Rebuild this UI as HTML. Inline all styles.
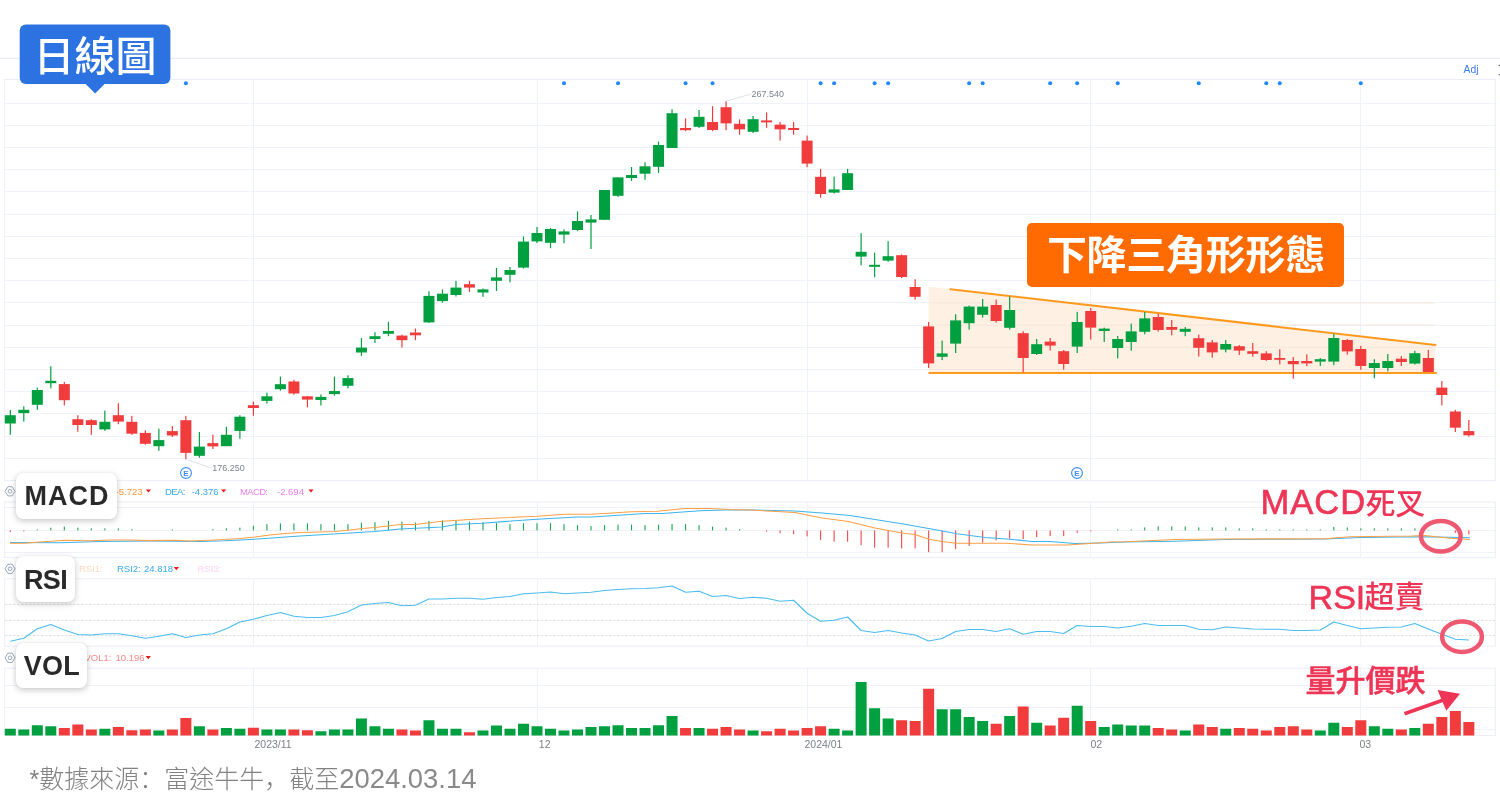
<!DOCTYPE html>
<html lang="zh-Hant"><head><meta charset="utf-8"><title>日線圖</title>
<style>
html,body{margin:0;padding:0;background:#fff}
body{width:1500px;height:812px;position:relative;overflow:hidden;font-family:"Liberation Sans","Noto Sans CJK TC",sans-serif}
.abs{position:absolute;white-space:nowrap}
.sc{font-family:"Noto Sans CJK SC",sans-serif}
.tag{box-sizing:border-box;padding-top:2px;background:#fff;border-radius:7px;box-shadow:0 2px 6px rgba(0,0,0,.22),0 0 1px rgba(0,0,0,.1);color:#2a2a2a;font-weight:bold;font-size:27px;letter-spacing:1px;text-indent:1px;display:flex;align-items:center;justify-content:center}
.note{color:#ee3556;font-size:30px;line-height:30px;font-weight:500;-webkit-text-stroke:0.3px #ee3556}
</style></head><body>
<svg width="1500" height="812" viewBox="0 0 1500 812" style="position:absolute;left:0;top:0">
<rect width="1500" height="812" fill="#fff"/>
<rect x="0" y="57.8" width="1500" height="1.2" fill="#e9ecf2"/>
<g shape-rendering="crispEdges">
<rect x="4.5" y="457.8" width="1491" height="1" fill="#eff2f8"/>
<rect x="4.5" y="435.6" width="1491" height="1" fill="#eff2f8"/>
<rect x="4.5" y="413.4" width="1491" height="1" fill="#eff2f8"/>
<rect x="4.5" y="391.2" width="1491" height="1" fill="#eff2f8"/>
<rect x="4.5" y="369" width="1491" height="1" fill="#eff2f8"/>
<rect x="4.5" y="346.8" width="1491" height="1" fill="#eff2f8"/>
<rect x="4.5" y="324.6" width="1491" height="1" fill="#eff2f8"/>
<rect x="4.5" y="302.4" width="1491" height="1" fill="#eff2f8"/>
<rect x="4.5" y="280.2" width="1491" height="1" fill="#eff2f8"/>
<rect x="4.5" y="258" width="1491" height="1" fill="#eff2f8"/>
<rect x="4.5" y="235.8" width="1491" height="1" fill="#eff2f8"/>
<rect x="4.5" y="213.6" width="1491" height="1" fill="#eff2f8"/>
<rect x="4.5" y="191.4" width="1491" height="1" fill="#eff2f8"/>
<rect x="4.5" y="169.2" width="1491" height="1" fill="#eff2f8"/>
<rect x="4.5" y="147" width="1491" height="1" fill="#eff2f8"/>
<rect x="4.5" y="124.8" width="1491" height="1" fill="#eff2f8"/>
<rect x="4.5" y="102.6" width="1491" height="1" fill="#eff2f8"/>
<rect x="252.89" y="79.5" width="1" height="401" fill="#eff2f8"/>
<rect x="536.5" y="79.5" width="1" height="401" fill="#eff2f8"/>
<rect x="806.6" y="79.5" width="1" height="401" fill="#eff2f8"/>
<rect x="1090.2" y="79.5" width="1" height="401" fill="#eff2f8"/>
<rect x="1360.3" y="79.5" width="1" height="401" fill="#eff2f8"/>
</g>
<rect x="4.7" y="79.5" width="1490.6" height="401" fill="none" stroke="#ebeef5" stroke-width="1"/>
<g shape-rendering="crispEdges">
<rect x="4.5" y="506.5" width="1491" height="1" fill="#eff2f8"/>
<rect x="4.5" y="529.5" width="1491" height="1" fill="#eff2f8"/>
<rect x="4.5" y="551.9" width="1491" height="1" fill="#eff2f8"/>
<rect x="252.89" y="502" width="1" height="55.6" fill="#eff2f8"/>
<rect x="536.5" y="502" width="1" height="55.6" fill="#eff2f8"/>
<rect x="806.6" y="502" width="1" height="55.6" fill="#eff2f8"/>
<rect x="1090.2" y="502" width="1" height="55.6" fill="#eff2f8"/>
<rect x="1360.3" y="502" width="1" height="55.6" fill="#eff2f8"/>
</g>
<rect x="4.7" y="502" width="1490.6" height="55.6" fill="none" stroke="#ebeef5" stroke-width="1"/>
<g shape-rendering="crispEdges">
<rect x="252.89" y="578.8" width="1" height="67.4" fill="#eff2f8"/>
<rect x="536.5" y="578.8" width="1" height="67.4" fill="#eff2f8"/>
<rect x="806.6" y="578.8" width="1" height="67.4" fill="#eff2f8"/>
<rect x="1090.2" y="578.8" width="1" height="67.4" fill="#eff2f8"/>
<rect x="1360.3" y="578.8" width="1" height="67.4" fill="#eff2f8"/>
</g>
<rect x="4.7" y="578.8" width="1490.6" height="67.4" fill="none" stroke="#ebeef5" stroke-width="1"/>
<line x1="5" x2="1495" y1="604.5" y2="604.5" stroke="#dcdfe5" stroke-width="1" stroke-dasharray="2.5 1.5"/>
<line x1="5" x2="1495" y1="620.5" y2="620.5" stroke="#dcdfe5" stroke-width="1" stroke-dasharray="2.5 1.5"/>
<line x1="5" x2="1495" y1="635.5" y2="635.5" stroke="#dcdfe5" stroke-width="1" stroke-dasharray="2.5 1.5"/>
<g shape-rendering="crispEdges">
<rect x="4.5" y="684.7" width="1491" height="1" fill="#eff2f8"/>
<rect x="4.5" y="706.7" width="1491" height="1" fill="#eff2f8"/>
<rect x="4.5" y="728.8" width="1491" height="1" fill="#eff2f8"/>
<rect x="252.89" y="668.2" width="1" height="67.3" fill="#eff2f8"/>
<rect x="536.5" y="668.2" width="1" height="67.3" fill="#eff2f8"/>
<rect x="806.6" y="668.2" width="1" height="67.3" fill="#eff2f8"/>
<rect x="1090.2" y="668.2" width="1" height="67.3" fill="#eff2f8"/>
<rect x="1360.3" y="668.2" width="1" height="67.3" fill="#eff2f8"/>
</g>
<rect x="4.7" y="668.2" width="1490.6" height="67.3" fill="none" stroke="#ebeef5" stroke-width="1"/>
<polygon points="928.6,286.7 1435.5,345 1435.5,373 928.6,373" fill="#fff0e4"/>
<rect x="929" y="369" width="506" height="1" fill="#f3e6dc"/>
<rect x="929" y="346.8" width="506" height="1" fill="#f3e6dc"/>
<rect x="929" y="324.6" width="506" height="1" fill="#f3e6dc"/>
<rect x="929" y="302.4" width="506" height="1" fill="#f3e6dc"/>
<line x1="950.4" y1="289.2" x2="1435.5" y2="344.9" stroke="#ff9a1f" stroke-width="2" stroke-linecap="round"/>
<line x1="929.4" y1="373" x2="1436" y2="373" stroke="#ff9a1f" stroke-width="2" stroke-linecap="round"/>
<circle cx="185.87" cy="83.2" r="2" fill="#1e88ff"/>
<circle cx="564" cy="83.2" r="2" fill="#1e88ff"/>
<circle cx="618.02" cy="83.2" r="2" fill="#1e88ff"/>
<circle cx="685.55" cy="83.2" r="2" fill="#1e88ff"/>
<circle cx="712.56" cy="83.2" r="2" fill="#1e88ff"/>
<circle cx="820.6" cy="83.2" r="2" fill="#1e88ff"/>
<circle cx="834.11" cy="83.2" r="2" fill="#1e88ff"/>
<circle cx="874.62" cy="83.2" r="2" fill="#1e88ff"/>
<circle cx="888.12" cy="83.2" r="2" fill="#1e88ff"/>
<circle cx="969.15" cy="83.2" r="2" fill="#1e88ff"/>
<circle cx="982.66" cy="83.2" r="2" fill="#1e88ff"/>
<circle cx="1050.18" cy="83.2" r="2" fill="#1e88ff"/>
<circle cx="1077.19" cy="83.2" r="2" fill="#1e88ff"/>
<circle cx="1117.71" cy="83.2" r="2" fill="#1e88ff"/>
<circle cx="1198.74" cy="83.2" r="2" fill="#1e88ff"/>
<circle cx="1266.27" cy="83.2" r="2" fill="#1e88ff"/>
<circle cx="1279.77" cy="83.2" r="2" fill="#1e88ff"/>
<circle cx="1360.8" cy="83.2" r="2" fill="#1e88ff"/>
<rect x="9.7" y="410" width="1.2" height="24.8" fill="#00a040"/>
<rect x="4.8" y="415.2" width="11" height="8.3" fill="#00a040"/>
<rect x="23.2" y="406.3" width="1.2" height="15.3" fill="#00a040"/>
<rect x="18.3" y="409.8" width="11" height="3.3" fill="#00a040"/>
<rect x="36.71" y="387.6" width="1.2" height="22.2" fill="#00a040"/>
<rect x="31.81" y="390" width="11" height="14.8" fill="#00a040"/>
<rect x="50.21" y="366.2" width="1.2" height="22.2" fill="#00a040"/>
<rect x="45.31" y="380.8" width="11" height="2.4" fill="#00a040"/>
<rect x="63.72" y="381.9" width="1.2" height="23.5" fill="#f03c3c"/>
<rect x="58.82" y="384.1" width="11" height="16.1" fill="#f03c3c"/>
<rect x="77.23" y="415.2" width="1.2" height="16.6" fill="#f03c3c"/>
<rect x="72.33" y="419.2" width="11" height="5.8" fill="#f03c3c"/>
<rect x="90.73" y="419.2" width="1.2" height="15.6" fill="#f03c3c"/>
<rect x="85.83" y="420.2" width="11" height="4.8" fill="#f03c3c"/>
<rect x="104.24" y="410.6" width="1.2" height="20.3" fill="#00a040"/>
<rect x="99.34" y="421.8" width="11" height="7.6" fill="#00a040"/>
<rect x="117.74" y="403.2" width="1.2" height="21" fill="#f03c3c"/>
<rect x="112.84" y="415.2" width="11" height="6.4" fill="#f03c3c"/>
<rect x="131.25" y="415.9" width="1.2" height="18.9" fill="#f03c3c"/>
<rect x="126.34" y="421.8" width="11" height="11.9" fill="#f03c3c"/>
<rect x="144.75" y="430.3" width="1.2" height="14.4" fill="#f03c3c"/>
<rect x="139.85" y="432.9" width="11" height="10.9" fill="#f03c3c"/>
<rect x="158.26" y="428.7" width="1.2" height="22.1" fill="#00a040"/>
<rect x="153.36" y="440.1" width="11" height="6.1" fill="#00a040"/>
<rect x="171.76" y="426.1" width="1.2" height="10.9" fill="#f03c3c"/>
<rect x="166.86" y="431.1" width="11" height="4.4" fill="#f03c3c"/>
<rect x="185.27" y="415.9" width="1.2" height="43.4" fill="#f03c3c"/>
<rect x="180.37" y="420.2" width="11" height="32.7" fill="#f03c3c"/>
<rect x="198.77" y="432" width="1.2" height="25.7" fill="#00a040"/>
<rect x="193.87" y="446.6" width="11" height="9.2" fill="#00a040"/>
<rect x="212.28" y="434.6" width="1.2" height="14.4" fill="#f03c3c"/>
<rect x="207.38" y="443.1" width="11" height="3.3" fill="#f03c3c"/>
<rect x="225.78" y="426.8" width="1.2" height="19.4" fill="#00a040"/>
<rect x="220.88" y="434.8" width="11" height="11.4" fill="#00a040"/>
<rect x="239.29" y="415.2" width="1.2" height="23.6" fill="#00a040"/>
<rect x="234.39" y="416.7" width="11" height="14.2" fill="#00a040"/>
<rect x="252.79" y="401.5" width="1.2" height="14.2" fill="#f03c3c"/>
<rect x="247.89" y="405.2" width="11" height="2.8" fill="#f03c3c"/>
<rect x="266.3" y="392.6" width="1.2" height="11" fill="#00a040"/>
<rect x="261.4" y="396.3" width="11" height="4.6" fill="#00a040"/>
<rect x="279.8" y="376.6" width="1.2" height="14.1" fill="#00a040"/>
<rect x="274.9" y="384.2" width="11" height="5" fill="#00a040"/>
<rect x="293.31" y="379.9" width="1.2" height="14.8" fill="#f03c3c"/>
<rect x="288.41" y="381.5" width="11" height="12" fill="#f03c3c"/>
<rect x="306.81" y="396.3" width="1.2" height="11" fill="#f03c3c"/>
<rect x="301.91" y="396.3" width="11" height="3.3" fill="#f03c3c"/>
<rect x="320.31" y="394.4" width="1.2" height="11.1" fill="#00a040"/>
<rect x="315.42" y="396.9" width="11" height="3.1" fill="#00a040"/>
<rect x="333.82" y="376.6" width="1.2" height="19" fill="#00a040"/>
<rect x="328.92" y="391" width="11" height="3.1" fill="#00a040"/>
<rect x="347.32" y="375.3" width="1.2" height="13" fill="#00a040"/>
<rect x="342.43" y="378.1" width="11" height="7.7" fill="#00a040"/>
<rect x="360.83" y="338.1" width="1.2" height="17.8" fill="#00a040"/>
<rect x="355.93" y="347.6" width="11" height="4.9" fill="#00a040"/>
<rect x="374.34" y="332.2" width="1.2" height="10.8" fill="#00a040"/>
<rect x="369.44" y="336.2" width="11" height="2.8" fill="#00a040"/>
<rect x="387.84" y="321.7" width="1.2" height="14.5" fill="#00a040"/>
<rect x="382.94" y="331" width="11" height="2.8" fill="#00a040"/>
<rect x="401.35" y="334.7" width="1.2" height="12.9" fill="#f03c3c"/>
<rect x="396.45" y="335.6" width="11" height="4.6" fill="#f03c3c"/>
<rect x="414.85" y="328.5" width="1.2" height="11.7" fill="#f03c3c"/>
<rect x="409.95" y="332.5" width="11" height="2.8" fill="#f03c3c"/>
<rect x="428.36" y="291.3" width="1.2" height="31.6" fill="#00a040"/>
<rect x="423.46" y="295.9" width="11" height="26.5" fill="#00a040"/>
<rect x="441.86" y="289.4" width="1.2" height="13.3" fill="#00a040"/>
<rect x="436.96" y="293.7" width="11" height="7.4" fill="#00a040"/>
<rect x="455.37" y="280.8" width="1.2" height="15.7" fill="#00a040"/>
<rect x="450.47" y="287.6" width="11" height="7.4" fill="#00a040"/>
<rect x="468.87" y="280.8" width="1.2" height="11.1" fill="#f03c3c"/>
<rect x="463.97" y="284.2" width="11" height="3.4" fill="#f03c3c"/>
<rect x="482.38" y="288.5" width="1.2" height="8.3" fill="#00a040"/>
<rect x="477.48" y="289.4" width="11" height="3.1" fill="#00a040"/>
<rect x="495.88" y="268" width="1.2" height="23" fill="#00a040"/>
<rect x="490.98" y="277.4" width="11" height="3.4" fill="#00a040"/>
<rect x="509.38" y="267" width="1.2" height="15.4" fill="#00a040"/>
<rect x="504.49" y="270" width="11" height="4.8" fill="#00a040"/>
<rect x="522.89" y="236.4" width="1.2" height="32.2" fill="#00a040"/>
<rect x="517.99" y="241.6" width="11" height="26" fill="#00a040"/>
<rect x="536.39" y="227" width="1.2" height="16" fill="#00a040"/>
<rect x="531.5" y="233" width="11" height="8.4" fill="#00a040"/>
<rect x="549.9" y="228" width="1.2" height="20.2" fill="#00a040"/>
<rect x="545" y="229" width="11" height="13.8" fill="#00a040"/>
<rect x="563.4" y="229.4" width="1.2" height="13.8" fill="#00a040"/>
<rect x="558.5" y="231.4" width="11" height="3.2" fill="#00a040"/>
<rect x="576.91" y="211.4" width="1.2" height="19.8" fill="#00a040"/>
<rect x="572.01" y="221" width="11" height="9" fill="#00a040"/>
<rect x="590.41" y="215" width="1.2" height="34" fill="#00a040"/>
<rect x="585.51" y="219.4" width="11" height="3.2" fill="#00a040"/>
<rect x="603.92" y="190" width="1.2" height="29.8" fill="#00a040"/>
<rect x="599.02" y="190" width="11" height="29.8" fill="#00a040"/>
<rect x="617.42" y="177.2" width="1.2" height="19.8" fill="#00a040"/>
<rect x="612.52" y="177.4" width="11" height="18.4" fill="#00a040"/>
<rect x="630.93" y="167" width="1.2" height="13.8" fill="#00a040"/>
<rect x="626.03" y="175" width="11" height="3" fill="#00a040"/>
<rect x="644.43" y="162.3" width="1.2" height="17.5" fill="#00a040"/>
<rect x="639.53" y="166.3" width="11" height="7.4" fill="#00a040"/>
<rect x="657.94" y="141.6" width="1.2" height="31.3" fill="#00a040"/>
<rect x="653.04" y="145" width="11" height="21.8" fill="#00a040"/>
<rect x="671.44" y="109.2" width="1.2" height="38.8" fill="#00a040"/>
<rect x="666.54" y="113.2" width="11" height="34.8" fill="#00a040"/>
<rect x="684.95" y="118.4" width="1.2" height="12.8" fill="#f03c3c"/>
<rect x="680.05" y="128" width="11" height="2.2" fill="#f03c3c"/>
<rect x="698.45" y="110" width="1.2" height="18" fill="#00a040"/>
<rect x="693.55" y="116.8" width="11" height="10" fill="#00a040"/>
<rect x="711.96" y="106.2" width="1.2" height="25" fill="#f03c3c"/>
<rect x="707.06" y="122" width="11" height="8" fill="#f03c3c"/>
<rect x="725.46" y="101.2" width="1.2" height="29" fill="#f03c3c"/>
<rect x="720.56" y="107.2" width="11" height="16.2" fill="#f03c3c"/>
<rect x="738.97" y="119.4" width="1.2" height="15.4" fill="#f03c3c"/>
<rect x="734.07" y="123.8" width="11" height="5.6" fill="#f03c3c"/>
<rect x="752.48" y="116" width="1.2" height="17" fill="#00a040"/>
<rect x="747.58" y="119.2" width="11" height="12.6" fill="#00a040"/>
<rect x="765.98" y="112.4" width="1.2" height="15.4" fill="#f03c3c"/>
<rect x="761.08" y="120.4" width="11" height="2" fill="#f03c3c"/>
<rect x="779.49" y="122" width="1.2" height="18.6" fill="#f03c3c"/>
<rect x="774.59" y="124.6" width="11" height="4.8" fill="#f03c3c"/>
<rect x="792.99" y="122" width="1.2" height="12.8" fill="#f03c3c"/>
<rect x="788.09" y="128" width="11" height="2" fill="#f03c3c"/>
<rect x="806.5" y="135.6" width="1.2" height="31.6" fill="#f03c3c"/>
<rect x="801.6" y="140.6" width="11" height="23" fill="#f03c3c"/>
<rect x="820" y="169" width="1.2" height="28.6" fill="#f03c3c"/>
<rect x="815.1" y="176.8" width="11" height="17.2" fill="#f03c3c"/>
<rect x="833.5" y="176.6" width="1.2" height="17" fill="#00a040"/>
<rect x="828.61" y="189.4" width="11" height="3.2" fill="#00a040"/>
<rect x="847.01" y="168.8" width="1.2" height="21.2" fill="#00a040"/>
<rect x="842.11" y="173.2" width="11" height="16.8" fill="#00a040"/>
<rect x="860.51" y="233.2" width="1.2" height="32.2" fill="#00a040"/>
<rect x="855.62" y="251.8" width="11" height="4.8" fill="#00a040"/>
<rect x="874.02" y="252.6" width="1.2" height="24.6" fill="#00a040"/>
<rect x="869.12" y="264.8" width="11" height="2" fill="#00a040"/>
<rect x="887.52" y="241.2" width="1.2" height="20.6" fill="#00a040"/>
<rect x="882.62" y="256.2" width="11" height="4.4" fill="#00a040"/>
<rect x="901.03" y="254.4" width="1.2" height="23.6" fill="#f03c3c"/>
<rect x="896.13" y="255.2" width="11" height="21.8" fill="#f03c3c"/>
<rect x="914.53" y="279.2" width="1.2" height="20.4" fill="#f03c3c"/>
<rect x="909.63" y="287" width="11" height="9.8" fill="#f03c3c"/>
<rect x="928.04" y="322" width="1.2" height="46" fill="#f03c3c"/>
<rect x="923.14" y="326.4" width="11" height="37" fill="#f03c3c"/>
<rect x="941.54" y="340.6" width="1.2" height="19.4" fill="#00a040"/>
<rect x="936.64" y="353.4" width="11" height="3.4" fill="#00a040"/>
<rect x="955.05" y="314.2" width="1.2" height="38.8" fill="#00a040"/>
<rect x="950.15" y="320.4" width="11" height="23.2" fill="#00a040"/>
<rect x="968.55" y="305.6" width="1.2" height="24" fill="#00a040"/>
<rect x="963.65" y="306.6" width="11" height="16.6" fill="#00a040"/>
<rect x="982.06" y="299" width="1.2" height="18.6" fill="#00a040"/>
<rect x="977.16" y="306.6" width="11" height="8.2" fill="#00a040"/>
<rect x="995.56" y="299.6" width="1.2" height="23" fill="#f03c3c"/>
<rect x="990.66" y="305" width="11" height="16" fill="#f03c3c"/>
<rect x="1009.07" y="296.6" width="1.2" height="33" fill="#00a040"/>
<rect x="1004.17" y="310" width="11" height="17.8" fill="#00a040"/>
<rect x="1022.58" y="331.2" width="1.2" height="41.2" fill="#f03c3c"/>
<rect x="1017.68" y="333.2" width="11" height="24.8" fill="#f03c3c"/>
<rect x="1036.08" y="339" width="1.2" height="16" fill="#00a040"/>
<rect x="1031.18" y="344.2" width="11" height="9.8" fill="#00a040"/>
<rect x="1049.59" y="338" width="1.2" height="12.6" fill="#f03c3c"/>
<rect x="1044.68" y="341.6" width="11" height="4" fill="#f03c3c"/>
<rect x="1063.09" y="350" width="1.2" height="19.6" fill="#f03c3c"/>
<rect x="1058.19" y="351.2" width="11" height="12.8" fill="#f03c3c"/>
<rect x="1076.6" y="311.8" width="1.2" height="41.2" fill="#00a040"/>
<rect x="1071.69" y="322" width="11" height="24.6" fill="#00a040"/>
<rect x="1090.1" y="308" width="1.2" height="31.6" fill="#f03c3c"/>
<rect x="1085.2" y="311" width="11" height="16.6" fill="#f03c3c"/>
<rect x="1103.61" y="327.6" width="1.2" height="14.4" fill="#00a040"/>
<rect x="1098.7" y="328.6" width="11" height="2.4" fill="#00a040"/>
<rect x="1117.11" y="336" width="1.2" height="22.4" fill="#00a040"/>
<rect x="1112.21" y="339" width="11" height="9" fill="#00a040"/>
<rect x="1130.62" y="323.6" width="1.2" height="27.1" fill="#00a040"/>
<rect x="1125.71" y="331.4" width="11" height="10.6" fill="#00a040"/>
<rect x="1144.12" y="312" width="1.2" height="22.4" fill="#00a040"/>
<rect x="1139.22" y="318.4" width="11" height="13.4" fill="#00a040"/>
<rect x="1157.62" y="314" width="1.2" height="17.6" fill="#f03c3c"/>
<rect x="1152.72" y="317" width="11" height="13" fill="#f03c3c"/>
<rect x="1171.13" y="320" width="1.2" height="15.4" fill="#f03c3c"/>
<rect x="1166.23" y="327" width="11" height="2.8" fill="#f03c3c"/>
<rect x="1184.64" y="327" width="1.2" height="9.2" fill="#00a040"/>
<rect x="1179.74" y="328.8" width="11" height="3" fill="#00a040"/>
<rect x="1198.14" y="334.6" width="1.2" height="22" fill="#f03c3c"/>
<rect x="1193.24" y="338.2" width="11" height="9.6" fill="#f03c3c"/>
<rect x="1211.65" y="340" width="1.2" height="17.6" fill="#f03c3c"/>
<rect x="1206.75" y="342.4" width="11" height="10" fill="#f03c3c"/>
<rect x="1225.15" y="340" width="1.2" height="12.4" fill="#00a040"/>
<rect x="1220.25" y="344" width="11" height="5.6" fill="#00a040"/>
<rect x="1238.66" y="345" width="1.2" height="10" fill="#f03c3c"/>
<rect x="1233.76" y="346.2" width="11" height="4.4" fill="#f03c3c"/>
<rect x="1252.16" y="343" width="1.2" height="13.6" fill="#f03c3c"/>
<rect x="1247.26" y="351.2" width="11" height="2.6" fill="#f03c3c"/>
<rect x="1265.67" y="351.2" width="1.2" height="9.6" fill="#f03c3c"/>
<rect x="1260.77" y="353.4" width="11" height="6.6" fill="#f03c3c"/>
<rect x="1279.17" y="349.2" width="1.2" height="15.2" fill="#f03c3c"/>
<rect x="1274.27" y="358" width="11" height="1.8" fill="#f03c3c"/>
<rect x="1292.68" y="357" width="1.2" height="21.8" fill="#f03c3c"/>
<rect x="1287.78" y="361" width="11" height="3.2" fill="#f03c3c"/>
<rect x="1306.18" y="354.4" width="1.2" height="11.6" fill="#f03c3c"/>
<rect x="1301.28" y="361" width="11" height="2.4" fill="#f03c3c"/>
<rect x="1319.69" y="358" width="1.2" height="8" fill="#00a040"/>
<rect x="1314.79" y="359.2" width="11" height="2.4" fill="#00a040"/>
<rect x="1333.19" y="333.6" width="1.2" height="31.6" fill="#00a040"/>
<rect x="1328.29" y="338" width="11" height="23.6" fill="#00a040"/>
<rect x="1346.7" y="339" width="1.2" height="15.6" fill="#f03c3c"/>
<rect x="1341.8" y="340" width="11" height="11.4" fill="#f03c3c"/>
<rect x="1360.2" y="345.8" width="1.2" height="24" fill="#f03c3c"/>
<rect x="1355.3" y="349" width="11" height="17" fill="#f03c3c"/>
<rect x="1373.71" y="359.2" width="1.2" height="19.1" fill="#00a040"/>
<rect x="1368.81" y="363" width="11" height="5" fill="#00a040"/>
<rect x="1387.21" y="354" width="1.2" height="17.3" fill="#00a040"/>
<rect x="1382.31" y="361" width="11" height="7" fill="#00a040"/>
<rect x="1400.72" y="356" width="1.2" height="10" fill="#f03c3c"/>
<rect x="1395.82" y="358.7" width="11" height="3.3" fill="#f03c3c"/>
<rect x="1414.22" y="350.8" width="1.2" height="13.7" fill="#00a040"/>
<rect x="1409.32" y="353.2" width="11" height="10.4" fill="#00a040"/>
<rect x="1427.73" y="350" width="1.2" height="22" fill="#f03c3c"/>
<rect x="1422.83" y="358" width="11" height="14" fill="#f03c3c"/>
<rect x="1441.23" y="381" width="1.2" height="24.4" fill="#f03c3c"/>
<rect x="1436.33" y="387.6" width="11" height="7.4" fill="#f03c3c"/>
<rect x="1454.74" y="409.8" width="1.2" height="22.2" fill="#f03c3c"/>
<rect x="1449.84" y="411.5" width="11" height="16.2" fill="#f03c3c"/>
<rect x="1468.24" y="420" width="1.2" height="16.5" fill="#f03c3c"/>
<rect x="1463.34" y="431.1" width="11" height="4.2" fill="#f03c3c"/>
<line x1="726.5" y1="101" x2="751" y2="94" stroke="#dfe3ea" stroke-width="1"/>
<text x="751.6" y="96.8" font-family="Liberation Sans, sans-serif" font-size="9" fill="#7c828c">267.540</text>
<line x1="186.5" y1="459.5" x2="211.5" y2="468" stroke="#dfe3ea" stroke-width="1"/>
<text x="212.3" y="471.2" font-family="Liberation Sans, sans-serif" font-size="9" fill="#7c828c">176.250</text>
<circle cx="186" cy="473" r="5.4" fill="#fff" stroke="#3d8bf5" stroke-width="1.1"/>
<text x="186" y="475.9" text-anchor="middle" font-family="Liberation Sans, sans-serif" font-size="8" font-weight="bold" fill="#3d8bf5">E</text>
<circle cx="1077" cy="473" r="5.4" fill="#fff" stroke="#3d8bf5" stroke-width="1.1"/>
<text x="1077" y="475.9" text-anchor="middle" font-family="Liberation Sans, sans-serif" font-size="8" font-weight="bold" fill="#3d8bf5">E</text>
<text x="1463.6" y="73" font-family="Liberation Sans, sans-serif" font-size="10.3" fill="#3b7cf0">Adj</text>
<rect x="1498.6" y="64.9" width="1.4" height="1.1" fill="#555"/><rect x="1498.6" y="74.1" width="1.4" height="1.1" fill="#555"/>
<rect x="9.75" y="530.4" width="1.1" height="1.7" fill="#f04a4a"/>
<rect x="23.25" y="530.4" width="1.1" height="1" fill="#f04a4a"/>
<rect x="36.76" y="529.4" width="1.1" height="1" fill="#1aa552"/>
<rect x="50.27" y="527.65" width="1.1" height="2.75" fill="#1aa552"/>
<rect x="63.77" y="526.65" width="1.1" height="3.75" fill="#1aa552"/>
<rect x="77.28" y="527.65" width="1.1" height="2.75" fill="#1aa552"/>
<rect x="90.78" y="528.4" width="1.1" height="2" fill="#1aa552"/>
<rect x="104.29" y="528.4" width="1.1" height="2" fill="#1aa552"/>
<rect x="117.79" y="528.4" width="1.1" height="2" fill="#1aa552"/>
<rect x="131.29" y="529.2" width="1.1" height="1.2" fill="#1aa552"/>
<rect x="171.81" y="529.4" width="1.1" height="1" fill="#1aa552"/>
<rect x="212.33" y="529.2" width="1.1" height="1.2" fill="#1aa552"/>
<rect x="225.83" y="528.4" width="1.1" height="2" fill="#1aa552"/>
<rect x="239.34" y="527.65" width="1.1" height="2.75" fill="#1aa552"/>
<rect x="252.84" y="525.9" width="1.1" height="4.5" fill="#1aa552"/>
<rect x="266.35" y="524.15" width="1.1" height="6.25" fill="#1aa552"/>
<rect x="279.85" y="523.4" width="1.1" height="7" fill="#1aa552"/>
<rect x="293.36" y="523.4" width="1.1" height="7" fill="#1aa552"/>
<rect x="306.86" y="523.4" width="1.1" height="7" fill="#1aa552"/>
<rect x="320.37" y="524.15" width="1.1" height="6.25" fill="#1aa552"/>
<rect x="333.87" y="524.15" width="1.1" height="6.25" fill="#1aa552"/>
<rect x="347.38" y="524.15" width="1.1" height="6.25" fill="#1aa552"/>
<rect x="360.88" y="522.65" width="1.1" height="7.75" fill="#1aa552"/>
<rect x="374.39" y="522.15" width="1.1" height="8.25" fill="#1aa552"/>
<rect x="387.89" y="520.9" width="1.1" height="9.5" fill="#1aa552"/>
<rect x="401.4" y="521.65" width="1.1" height="8.75" fill="#1aa552"/>
<rect x="414.9" y="522.65" width="1.1" height="7.75" fill="#1aa552"/>
<rect x="428.41" y="520.9" width="1.1" height="9.5" fill="#1aa552"/>
<rect x="441.91" y="520.4" width="1.1" height="10" fill="#1aa552"/>
<rect x="455.42" y="520.9" width="1.1" height="9.5" fill="#1aa552"/>
<rect x="468.92" y="521.65" width="1.1" height="8.75" fill="#1aa552"/>
<rect x="482.43" y="522.15" width="1.1" height="8.25" fill="#1aa552"/>
<rect x="495.93" y="523.15" width="1.1" height="7.25" fill="#1aa552"/>
<rect x="509.44" y="524.15" width="1.1" height="6.25" fill="#1aa552"/>
<rect x="522.94" y="523.15" width="1.1" height="7.25" fill="#1aa552"/>
<rect x="536.45" y="523.15" width="1.1" height="7.25" fill="#1aa552"/>
<rect x="549.95" y="523.15" width="1.1" height="7.25" fill="#1aa552"/>
<rect x="563.46" y="524.15" width="1.1" height="6.25" fill="#1aa552"/>
<rect x="576.96" y="525.15" width="1.1" height="5.25" fill="#1aa552"/>
<rect x="590.47" y="526.15" width="1.1" height="4.25" fill="#1aa552"/>
<rect x="603.97" y="525.15" width="1.1" height="5.25" fill="#1aa552"/>
<rect x="617.48" y="524.65" width="1.1" height="5.75" fill="#1aa552"/>
<rect x="630.98" y="524.65" width="1.1" height="5.75" fill="#1aa552"/>
<rect x="644.49" y="525.15" width="1.1" height="5.25" fill="#1aa552"/>
<rect x="657.99" y="524.65" width="1.1" height="5.75" fill="#1aa552"/>
<rect x="671.5" y="523.9" width="1.1" height="6.5" fill="#1aa552"/>
<rect x="685" y="524.15" width="1.1" height="6.25" fill="#1aa552"/>
<rect x="698.5" y="525.15" width="1.1" height="5.25" fill="#1aa552"/>
<rect x="712.01" y="526.65" width="1.1" height="3.75" fill="#1aa552"/>
<rect x="725.51" y="527.65" width="1.1" height="2.75" fill="#1aa552"/>
<rect x="739.02" y="529.15" width="1.1" height="1.25" fill="#1aa552"/>
<rect x="766.03" y="530.4" width="1.1" height="1.25" fill="#f04a4a"/>
<rect x="779.54" y="530.4" width="1.1" height="2.75" fill="#f04a4a"/>
<rect x="793.04" y="530.4" width="1.1" height="3.75" fill="#f04a4a"/>
<rect x="806.55" y="530.4" width="1.1" height="6" fill="#f04a4a"/>
<rect x="820.05" y="530.4" width="1.1" height="9.5" fill="#f04a4a"/>
<rect x="833.56" y="530.4" width="1.1" height="11.25" fill="#f04a4a"/>
<rect x="847.06" y="530.4" width="1.1" height="11.25" fill="#f04a4a"/>
<rect x="860.57" y="530.4" width="1.1" height="14.75" fill="#f04a4a"/>
<rect x="874.07" y="530.4" width="1.1" height="17.25" fill="#f04a4a"/>
<rect x="887.58" y="530.4" width="1.1" height="17.25" fill="#f04a4a"/>
<rect x="901.08" y="530.4" width="1.1" height="18" fill="#f04a4a"/>
<rect x="914.59" y="530.4" width="1.1" height="18" fill="#f04a4a"/>
<rect x="928.09" y="530.4" width="1.1" height="21.75" fill="#f04a4a"/>
<rect x="941.6" y="530.4" width="1.1" height="21.75" fill="#f04a4a"/>
<rect x="955.1" y="530.4" width="1.1" height="18.75" fill="#f04a4a"/>
<rect x="968.61" y="530.4" width="1.1" height="15.5" fill="#f04a4a"/>
<rect x="982.11" y="530.4" width="1.1" height="12.25" fill="#f04a4a"/>
<rect x="995.62" y="530.4" width="1.1" height="10" fill="#f04a4a"/>
<rect x="1009.12" y="530.4" width="1.1" height="8.25" fill="#f04a4a"/>
<rect x="1022.63" y="530.4" width="1.1" height="8.75" fill="#f04a4a"/>
<rect x="1036.13" y="530.4" width="1.1" height="6.75" fill="#f04a4a"/>
<rect x="1049.63" y="530.4" width="1.1" height="5.75" fill="#f04a4a"/>
<rect x="1063.14" y="530.4" width="1.1" height="5.75" fill="#f04a4a"/>
<rect x="1076.64" y="530.4" width="1.1" height="2.5" fill="#f04a4a"/>
<rect x="1090.15" y="530.4" width="1.1" height="1" fill="#f04a4a"/>
<rect x="1117.16" y="529.4" width="1.1" height="1" fill="#1aa552"/>
<rect x="1130.66" y="529.4" width="1.1" height="1" fill="#1aa552"/>
<rect x="1144.17" y="527.4" width="1.1" height="3" fill="#1aa552"/>
<rect x="1157.67" y="526.4" width="1.1" height="4" fill="#1aa552"/>
<rect x="1171.18" y="526.4" width="1.1" height="4" fill="#1aa552"/>
<rect x="1184.69" y="526.4" width="1.1" height="4" fill="#1aa552"/>
<rect x="1198.19" y="527.4" width="1.1" height="3" fill="#1aa552"/>
<rect x="1211.7" y="527.4" width="1.1" height="3" fill="#1aa552"/>
<rect x="1225.2" y="527.4" width="1.1" height="3" fill="#1aa552"/>
<rect x="1238.71" y="528.4" width="1.1" height="2" fill="#1aa552"/>
<rect x="1252.21" y="528.4" width="1.1" height="2" fill="#1aa552"/>
<rect x="1265.72" y="529.4" width="1.1" height="1" fill="#1aa552"/>
<rect x="1279.22" y="529.4" width="1.1" height="1" fill="#1aa552"/>
<rect x="1292.73" y="529.4" width="1.1" height="1" fill="#1aa552"/>
<rect x="1306.23" y="529.4" width="1.1" height="1" fill="#1aa552"/>
<rect x="1319.74" y="529.4" width="1.1" height="1" fill="#1aa552"/>
<rect x="1333.24" y="526.9" width="1.1" height="3.5" fill="#1aa552"/>
<rect x="1346.75" y="527.4" width="1.1" height="3" fill="#1aa552"/>
<rect x="1360.25" y="528.4" width="1.1" height="2" fill="#1aa552"/>
<rect x="1373.76" y="528.4" width="1.1" height="2" fill="#1aa552"/>
<rect x="1387.26" y="528.4" width="1.1" height="2" fill="#1aa552"/>
<rect x="1400.77" y="528.4" width="1.1" height="2" fill="#1aa552"/>
<rect x="1414.27" y="528.4" width="1.1" height="2" fill="#1aa552"/>
<rect x="1427.78" y="529.9" width="1.1" height="0.5" fill="#1aa552"/>
<rect x="1454.79" y="530.4" width="1.1" height="2.5" fill="#f04a4a"/>
<rect x="1468.29" y="530.4" width="1.1" height="4" fill="#f04a4a"/>
<polyline points="10,542.5 60,542.8 100,541.5 150,541 200,541.5 225,540.8 250,539.5 300,536 350,533 375,531.5 400,529 442,527 456,524.5 482,523.2 537,519.2 577,517 592,517 645,513.5 662,513.5 700,510.7 725,510 750,510 795,511 822,513 850,515.5 875,519.5 902,523.7 930,528.7 957,533.7 985,537.5 1010,539.2 1032,541.5 1050,541.5 1075,543.5 1100,543 1125,542 1175,541.2 1225,539.5 1325,539 1360,537.5 1425,536.7 1450,537.2 1470,537.7" fill="none" stroke="#3cb4ec" stroke-width="1.1" stroke-linejoin="round"/>
<polyline points="10,543.2 25,543.2 40,542 65,540.2 90,540.8 110,540 130,540 150,540.6 175,540.2 190,541 215,540 240,538.5 255,537 270,535 285,533.5 300,532.5 320,532 335,531.5 350,530 362,528.5 375,527.5 400,524.5 415,524.5 442,521.2 482,518.7 537,516.2 565,514.2 592,514.2 632,511.7 657,511.2 685,508.5 710,508.5 730,509.5 750,510 767,511 795,512.5 822,518 847,521.2 875,528 902,533 915,534.5 929,539.2 942,541.5 956,543.2 1007,543.2 1032,545 1067,545 1090,543.5 1110,542 1125,541.8 1175,539.5 1225,539 1325,538.7 1350,536.7 1412,536 1425,535.5 1450,538.2 1470,539.5" fill="none" stroke="#ff9f45" stroke-width="1.1" stroke-linejoin="round"/>
<polyline points="10.3,641.25 23.8,638.25 37.31,628.75 50.81,624.5 64.32,630 77.83,634.5 91.33,635 104.84,633.75 118.34,633.75 131.84,635.75 145.35,638.25 158.86,636.25 172.36,633.75 185.87,637.5 199.37,635 212.88,633.75 226.38,628.75 239.89,622 253.39,619.25 266.9,615.5 280.4,612.5 293.91,616.25 307.41,617.5 320.92,617.5 334.42,615.5 347.93,611.75 361.43,605 374.94,603.5 388.44,602.5 401.95,605.75 415.45,605.25 428.96,599 442.46,599 455.97,598.25 469.47,598.25 482.98,599.25 496.48,597.5 509.99,596.5 523.49,593.75 537,593 550.5,592 564,593.75 577.51,593 591.01,592.25 604.52,590.5 618.02,589.5 631.53,588.75 645.03,588.5 658.54,587.75 672.04,586 685.55,592.25 699.05,591.25 712.56,596.5 726.06,595.5 739.57,598.5 753.08,597.25 766.58,598.25 780.09,601.25 793.59,600.25 807.1,613.25 820.6,621.25 834.11,620.25 847.61,617 861.12,630.5 874.62,632.5 888.12,630.5 901.63,633 915.13,635 928.64,641 942.14,638.5 955.65,631.5 969.15,629.5 982.66,629.5 996.16,631.5 1009.67,628.75 1023.18,634.25 1036.68,631.5 1050.18,631.5 1063.69,633.5 1077.19,625.5 1090.7,626.5 1104.2,626.5 1117.71,628 1131.21,626.25 1144.72,623.5 1158.22,625.5 1171.73,625.5 1185.24,625.5 1198.74,629.25 1212.25,629.75 1225.75,627 1239.26,628 1252.76,629 1266.27,629.25 1279.77,629.25 1293.28,630.5 1306.78,630.5 1320.29,630 1333.79,622 1347.3,625.5 1360.8,628.75 1374.31,628 1387.81,627.25 1401.32,627 1414.82,623.5 1428.33,629 1441.83,634.25 1455.34,639.25 1468.84,640" fill="none" stroke="#4bbcf0" stroke-width="1.15" stroke-linejoin="round"/>
<rect x="4.8" y="728.75" width="11" height="6.75" fill="#00a040"/>
<rect x="18.3" y="729.5" width="11" height="6" fill="#00a040"/>
<rect x="31.81" y="725.25" width="11" height="10.25" fill="#00a040"/>
<rect x="45.31" y="726.25" width="11" height="9.25" fill="#00a040"/>
<rect x="58.82" y="728" width="11" height="7.5" fill="#f03c3c"/>
<rect x="72.33" y="724.5" width="11" height="11" fill="#f03c3c"/>
<rect x="85.83" y="729.5" width="11" height="6" fill="#f03c3c"/>
<rect x="99.34" y="728.75" width="11" height="6.75" fill="#00a040"/>
<rect x="112.84" y="727" width="11" height="8.5" fill="#f03c3c"/>
<rect x="126.34" y="730.25" width="11" height="5.25" fill="#f03c3c"/>
<rect x="139.85" y="729.5" width="11" height="6" fill="#f03c3c"/>
<rect x="153.36" y="730.5" width="11" height="5" fill="#00a040"/>
<rect x="166.86" y="729.5" width="11" height="6" fill="#f03c3c"/>
<rect x="180.37" y="718" width="11" height="17.5" fill="#f03c3c"/>
<rect x="193.87" y="726.25" width="11" height="9.25" fill="#00a040"/>
<rect x="207.38" y="729.5" width="11" height="6" fill="#f03c3c"/>
<rect x="220.88" y="728" width="11" height="7.5" fill="#00a040"/>
<rect x="234.39" y="728.75" width="11" height="6.75" fill="#00a040"/>
<rect x="247.89" y="727.75" width="11" height="7.75" fill="#f03c3c"/>
<rect x="261.4" y="729.5" width="11" height="6" fill="#00a040"/>
<rect x="274.9" y="729.5" width="11" height="6" fill="#00a040"/>
<rect x="288.41" y="729.5" width="11" height="6" fill="#f03c3c"/>
<rect x="301.91" y="730.25" width="11" height="5.25" fill="#f03c3c"/>
<rect x="315.42" y="731.25" width="11" height="4.25" fill="#00a040"/>
<rect x="328.92" y="729.5" width="11" height="6" fill="#00a040"/>
<rect x="342.43" y="729.5" width="11" height="6" fill="#00a040"/>
<rect x="355.93" y="718.5" width="11" height="17" fill="#00a040"/>
<rect x="369.44" y="726.25" width="11" height="9.25" fill="#00a040"/>
<rect x="382.94" y="728.75" width="11" height="6.75" fill="#00a040"/>
<rect x="396.45" y="729.5" width="11" height="6" fill="#f03c3c"/>
<rect x="409.95" y="730.5" width="11" height="5" fill="#f03c3c"/>
<rect x="423.46" y="720.25" width="11" height="15.25" fill="#00a040"/>
<rect x="436.96" y="728.75" width="11" height="6.75" fill="#00a040"/>
<rect x="450.47" y="728.75" width="11" height="6.75" fill="#00a040"/>
<rect x="463.97" y="732.25" width="11" height="3.25" fill="#f03c3c"/>
<rect x="477.48" y="730.5" width="11" height="5" fill="#00a040"/>
<rect x="490.98" y="725.5" width="11" height="10" fill="#00a040"/>
<rect x="504.49" y="728.75" width="11" height="6.75" fill="#00a040"/>
<rect x="517.99" y="723.75" width="11" height="11.75" fill="#00a040"/>
<rect x="531.5" y="726.25" width="11" height="9.25" fill="#00a040"/>
<rect x="545" y="728.75" width="11" height="6.75" fill="#00a040"/>
<rect x="558.5" y="730.5" width="11" height="5" fill="#00a040"/>
<rect x="572.01" y="729.5" width="11" height="6" fill="#00a040"/>
<rect x="585.51" y="727" width="11" height="8.5" fill="#00a040"/>
<rect x="599.02" y="726.25" width="11" height="9.25" fill="#00a040"/>
<rect x="612.52" y="725.25" width="11" height="10.25" fill="#00a040"/>
<rect x="626.03" y="728" width="11" height="7.5" fill="#00a040"/>
<rect x="639.53" y="728" width="11" height="7.5" fill="#00a040"/>
<rect x="653.04" y="725.25" width="11" height="10.25" fill="#00a040"/>
<rect x="666.54" y="716" width="11" height="19.5" fill="#00a040"/>
<rect x="680.05" y="728" width="11" height="7.5" fill="#f03c3c"/>
<rect x="693.55" y="728" width="11" height="7.5" fill="#00a040"/>
<rect x="707.06" y="728.75" width="11" height="6.75" fill="#f03c3c"/>
<rect x="720.56" y="727" width="11" height="8.5" fill="#f03c3c"/>
<rect x="734.07" y="729.5" width="11" height="6" fill="#f03c3c"/>
<rect x="747.58" y="730.5" width="11" height="5" fill="#00a040"/>
<rect x="761.08" y="731.25" width="11" height="4.25" fill="#f03c3c"/>
<rect x="774.59" y="728.75" width="11" height="6.75" fill="#f03c3c"/>
<rect x="788.09" y="730.5" width="11" height="5" fill="#f03c3c"/>
<rect x="801.6" y="728" width="11" height="7.5" fill="#f03c3c"/>
<rect x="815.1" y="726.25" width="11" height="9.25" fill="#f03c3c"/>
<rect x="828.61" y="728.75" width="11" height="6.75" fill="#00a040"/>
<rect x="842.11" y="730.5" width="11" height="5" fill="#00a040"/>
<rect x="855.62" y="682" width="11" height="53.5" fill="#00a040"/>
<rect x="869.12" y="708.25" width="11" height="27.25" fill="#00a040"/>
<rect x="882.62" y="718.5" width="11" height="17" fill="#00a040"/>
<rect x="896.13" y="720.25" width="11" height="15.25" fill="#f03c3c"/>
<rect x="909.63" y="721" width="11" height="14.5" fill="#f03c3c"/>
<rect x="923.14" y="688.75" width="11" height="46.75" fill="#f03c3c"/>
<rect x="936.64" y="709.25" width="11" height="26.25" fill="#00a040"/>
<rect x="950.15" y="709.25" width="11" height="26.25" fill="#00a040"/>
<rect x="963.65" y="717" width="11" height="18.5" fill="#00a040"/>
<rect x="977.16" y="721" width="11" height="14.5" fill="#00a040"/>
<rect x="990.66" y="723.75" width="11" height="11.75" fill="#f03c3c"/>
<rect x="1004.17" y="716" width="11" height="19.5" fill="#00a040"/>
<rect x="1017.68" y="706.5" width="11" height="29" fill="#f03c3c"/>
<rect x="1031.18" y="722.75" width="11" height="12.75" fill="#00a040"/>
<rect x="1044.68" y="725.5" width="11" height="10" fill="#f03c3c"/>
<rect x="1058.19" y="717.75" width="11" height="17.75" fill="#f03c3c"/>
<rect x="1071.69" y="705.75" width="11" height="29.75" fill="#00a040"/>
<rect x="1085.2" y="721" width="11" height="14.5" fill="#f03c3c"/>
<rect x="1098.7" y="727" width="11" height="8.5" fill="#00a040"/>
<rect x="1112.21" y="724.5" width="11" height="11" fill="#00a040"/>
<rect x="1125.71" y="725.5" width="11" height="10" fill="#00a040"/>
<rect x="1139.22" y="725.5" width="11" height="10" fill="#00a040"/>
<rect x="1152.72" y="728" width="11" height="7.5" fill="#f03c3c"/>
<rect x="1166.23" y="729.5" width="11" height="6" fill="#f03c3c"/>
<rect x="1179.74" y="730.5" width="11" height="5" fill="#00a040"/>
<rect x="1193.24" y="724.5" width="11" height="11" fill="#f03c3c"/>
<rect x="1206.75" y="727" width="11" height="8.5" fill="#f03c3c"/>
<rect x="1220.25" y="728.75" width="11" height="6.75" fill="#00a040"/>
<rect x="1233.76" y="728" width="11" height="7.5" fill="#f03c3c"/>
<rect x="1247.26" y="728.75" width="11" height="6.75" fill="#f03c3c"/>
<rect x="1260.77" y="730.5" width="11" height="5" fill="#f03c3c"/>
<rect x="1274.27" y="727" width="11" height="8.5" fill="#f03c3c"/>
<rect x="1287.78" y="726.25" width="11" height="9.25" fill="#f03c3c"/>
<rect x="1301.28" y="729.5" width="11" height="6" fill="#f03c3c"/>
<rect x="1314.79" y="730.5" width="11" height="5" fill="#00a040"/>
<rect x="1328.29" y="722.75" width="11" height="12.75" fill="#00a040"/>
<rect x="1341.8" y="727" width="11" height="8.5" fill="#f03c3c"/>
<rect x="1355.3" y="720.25" width="11" height="15.25" fill="#f03c3c"/>
<rect x="1368.81" y="726.25" width="11" height="9.25" fill="#00a040"/>
<rect x="1382.31" y="728.75" width="11" height="6.75" fill="#00a040"/>
<rect x="1395.82" y="729.5" width="11" height="6" fill="#f03c3c"/>
<rect x="1409.32" y="728" width="11" height="7.5" fill="#00a040"/>
<rect x="1422.83" y="723.75" width="11" height="11.75" fill="#f03c3c"/>
<rect x="1436.33" y="717" width="11" height="18.5" fill="#f03c3c"/>
<rect x="1449.84" y="711" width="11" height="24.5" fill="#f03c3c"/>
<rect x="1463.34" y="722" width="11" height="13.5" fill="#f03c3c"/>
<text x="254.5" y="748.3" font-family="Liberation Sans, sans-serif" font-size="10.5" fill="#7a7f87">2023/11</text>
<text x="538.8" y="748.3" font-family="Liberation Sans, sans-serif" font-size="10.5" fill="#7a7f87">12</text>
<text x="804.5" y="748.3" font-family="Liberation Sans, sans-serif" font-size="10.5" fill="#7a7f87">2024/01</text>
<text x="1090.5" y="748.3" font-family="Liberation Sans, sans-serif" font-size="10.5" fill="#7a7f87">02</text>
<text x="1359.5" y="748.3" font-family="Liberation Sans, sans-serif" font-size="10.5" fill="#7a7f87">03</text>
<g transform="translate(10,491.3)" fill="none" stroke="#9aa7bd" stroke-width="1"><circle r="1.8"/><path d="M-2.1,-4.6 L2.1,-4.6 L5,-0 L2.1,4.6 L-2.1,4.6 L-5,0 Z" stroke-linejoin="round"/></g>
<g transform="translate(10,568.8)" fill="none" stroke="#9aa7bd" stroke-width="1"><circle r="1.8"/><path d="M-2.1,-4.6 L2.1,-4.6 L5,-0 L2.1,4.6 L-2.1,4.6 L-5,0 Z" stroke-linejoin="round"/></g>
<g transform="translate(10,657.8)" fill="none" stroke="#9aa7bd" stroke-width="1"><circle r="1.8"/><path d="M-2.1,-4.6 L2.1,-4.6 L5,-0 L2.1,4.6 L-2.1,4.6 L-5,0 Z" stroke-linejoin="round"/></g>
<text x="95" y="494.5" font-family="Liberation Sans, sans-serif" font-size="9.5" fill="#ff9a3c">DIF: -5.723</text>
<polygon points="145.8,489.5 151,489.5 148.4,492.6" fill="#ee1515"/>
<text x="165" y="494.5" font-family="Liberation Sans, sans-serif" font-size="9.5" fill="#3aa8ea" textLength="20.5">DEA:</text><text x="191.7" y="494.5" font-family="Liberation Sans, sans-serif" font-size="9.5" fill="#3aa8ea">-4.376</text>
<polygon points="221,489.5 226.2,489.5 223.6,492.6" fill="#ee1515"/>
<text x="240" y="494.5" font-family="Liberation Sans, sans-serif" font-size="9.5" fill="#ec7de9" textLength="28">MACD:</text><text x="277" y="494.5" font-family="Liberation Sans, sans-serif" font-size="9.5" fill="#ec7de9">-2.694</text>
<polygon points="308.4,489.5 313.6,489.5 311,492.6" fill="#ee1515"/>
<text x="79" y="572" font-family="Liberation Sans, sans-serif" font-size="9.5" fill="#ffd9bf">RSI1:</text>
<text x="117" y="572" font-family="Liberation Sans, sans-serif" font-size="9.5" fill="#3aa8ea">RSI2:</text><text x="144" y="572" font-family="Liberation Sans, sans-serif" font-size="9.5" fill="#3aa8ea">24.818</text>
<polygon points="173.8,567.1 179,567.1 176.4,570.2" fill="#ee1515"/>
<text x="197.6" y="572" font-family="Liberation Sans, sans-serif" font-size="9.5" fill="#f9d3f5">RSI3:</text>
<text x="84.5" y="661" font-family="Liberation Sans, sans-serif" font-size="9.5" fill="#f58b8b">VOL1:</text><text x="115.5" y="661" font-family="Liberation Sans, sans-serif" font-size="9.5" fill="#f58b8b">10.196</text>
<polygon points="145.7,656.1 150.9,656.1 148.3,659.2" fill="#ee1515"/>
<ellipse cx="1440.8" cy="536.2" rx="19.8" ry="15.3" fill="none" stroke="#ee5870" stroke-width="4.5"/>
<ellipse cx="1462" cy="636.8" rx="19.9" ry="15.2" fill="none" stroke="#ee5870" stroke-width="4.5"/>
<text x="1260.4" y="514.3" font-family="Liberation Sans, Noto Sans CJK TC, sans-serif" font-size="30" font-weight="500" fill="#ee3556"><tspan font-size="34.5" letter-spacing="1.05" font-weight="400" stroke="#ee3556" stroke-width="0.6">MACD</tspan><tspan dx="-0.8" dy="-0.8">死叉</tspan></text>
<text x="1308.6" y="608.6" font-family="Liberation Sans, Noto Sans CJK TC, sans-serif" font-size="30" font-weight="500" fill="#ee3556"><tspan font-size="34" font-weight="400" stroke="#ee3556" stroke-width="0.6">RSI</tspan><tspan dx="-0.8" dy="-1.5">超賣</tspan></text>
<line x1="1404.5" y1="713.8" x2="1444" y2="699.8" stroke="#ee3556" stroke-width="3.6"/>
<polygon points="1460,693.8 1437.5,690 1446.3,710.8" fill="#ee3556"/>
<rect x="19.7" y="24.4" width="150.7" height="59.6" rx="6.2" fill="#2c72e0"/>
<polygon points="85.4,83.8 104.8,83.8 95.1,93.4" fill="#2c72e0"/>
</svg>
<div class="abs" id="day" style="left:19.7px;top:24px;width:150.7px;height:60px;color:#fff;font-weight:500;font-size:41px;line-height:60px;padding-top:2.9px;box-sizing:border-box;text-align:center">日線圖</div>
<div class="abs tag" id="tmacd" style="left:16px;top:473px;width:101px;height:45.6px">MACD</div>
<div class="abs tag" id="trsi" style="left:16px;top:556.4px;width:59px;height:45.6px;letter-spacing:-0.6px;text-indent:0">RSI</div>
<div class="abs tag" id="tvol" style="left:16.2px;top:642.5px;width:71.3px;height:45px;letter-spacing:0.2px;text-indent:0">VOL</div>
<div class="abs" id="tri" style="left:1027px;top:223px;width:317px;height:63.6px;background:#ff6b00;border-radius:5px;color:#fff;font-weight:bold;font-size:40px;line-height:63.6px;padding-top:1.1px;box-sizing:border-box;text-indent:1px;letter-spacing:-0.25px;text-align:center">下降三角形形態</div>
<div class="abs note" id="n3" style="left:1305.5px;top:665.5px;font-weight:500;-webkit-text-stroke:0.55px #ee3556">量升價跌</div>
<div class="abs" id="foot" style="left:29.5px;top:760.5px;font-size:25px;line-height:32px;color:#828282;font-weight:300">*數據來源<span class="sc" lang="zh-CN">：</span>富途牛牛<span class="sc" lang="zh-CN">，</span>截至<span style="font-size:27.4px;color:#8a8a8a">2024.03.14</span></div>
</body></html>
